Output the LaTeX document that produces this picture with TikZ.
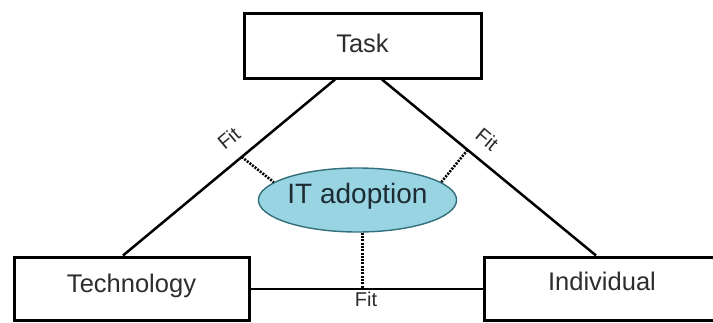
\documentclass[tikz,border=0pt]{standalone}
\usepackage{fontspec}
\setmainfont{Liberation Sans}
\usetikzlibrary{shapes.geometric}
\definecolor{adoptfill}{RGB}{152,212,226}
\definecolor{adoptline}{RGB}{52,112,124}
\definecolor{adopttext}{RGB}{28,44,50}
\definecolor{inktext}{RGB}{45,45,45}
\tikzset{
  box/.style={draw=black, line width=3pt, fill=white, minimum width=235pt,
    minimum height=63pt, inner sep=0pt, text=inktext,
    font=\fontsize{25.5}{30}\selectfont, text height=0.72em, text depth=0pt},
  oval/.style={ellipse, draw=adoptline, line width=1.4pt, fill=adoptfill,
    minimum width=197pt, minimum height=64pt, inner sep=0pt, text=adopttext,
    font=\fontsize{28}{32}\selectfont, text height=0.72em, text depth=0pt},
  link/.style={draw=black, line width=2.5pt},
  baseline link/.style={draw=black, line width=2pt},
  dotlink/.style={draw=black, line width=2.6pt, dash pattern=on 2pt off 1.3pt},
  fitlbl/.style={text=inktext, font=\fontsize{20}{24}\selectfont, inner sep=0pt,
    text height=0.72em, text depth=0pt}
}
\begin{document}
\begin{tikzpicture}[x=1pt, y=-1pt]
  \useasboundingbox (0,0) rectangle (713,322);
  \fill[white] (0,0) rectangle (713,322);

  % the three factors
  \node[box, minimum width=237pt, minimum height=65pt] (task) at (362.5,45.5) {\raisebox{-3.5pt}{Task}};
  \node[box] (tech) at (131.5,288.5) {Technology};
  \node[box] (indiv) at (602,288.5) {\raisebox{2pt}{Individual}};

  % fit relations between the factors
  \path[link] ([xshift=-27.5pt]task.south) -- coordinate[pos=0.44] (fl) ([xshift=-8.5pt]tech.north);
  \path[link] ([xshift=19.5pt]task.south) -- coordinate[pos=0.40] (fr) ([xshift=-6pt]indiv.north);
  \path[baseline link] (tech.east) -- (indiv.west);

  % the outcome in the middle
  \node[oval] (adopt) at (357.5,200) {IT adoption};

  % dotted ties from each fit to the outcome
  \draw[dotlink] (fl) -- (adopt.168);
  \draw[dotlink] (fr) -- (adopt.12);
  \draw[dotlink] ([xshift=5pt]adopt.south) -- ([xshift=5pt]adopt.south |- tech.east);

  % labels
  \node[fitlbl, rotate=40] (fitL) at (231,141) {Fit};
  \node[fitlbl, rotate=-40] (fitR) at (485,142) {Fit};
  \node[fitlbl] (fitB) at (366,303) {Fit};
\end{tikzpicture}
\end{document}
